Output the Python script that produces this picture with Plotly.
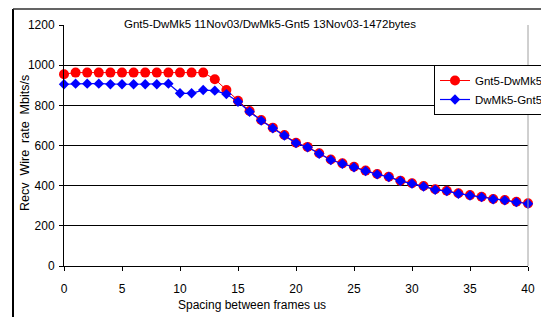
import plotly.graph_objects as go

spacing = list(range(0, 41))
gnt5_dwmk5 = [955, 963, 963, 963, 963, 963, 963, 963, 963, 963, 963, 963, 963, 930, 876,
              823, 772, 727, 689, 652, 614, 593, 561, 530, 511, 494, 475, 458, 445, 425,
              412, 398, 382, 375, 362, 353, 345, 334, 329, 320, 312]
dwmk5_gnt5 = [905, 908, 908, 908, 905, 905, 905, 905, 905, 908, 860, 860, 876, 873, 856,
              818, 768, 724, 686, 650, 612, 591, 559, 528, 509, 492, 473, 456, 443, 423,
              410, 396, 380, 373, 360, 351, 343, 332, 327, 318, 310]
y_ticks = [0, 200, 400, 600, 800, 1000, 1200]
x_ticks = [0, 5, 10, 15, 20, 25, 30, 35, 40]
title_text = "Gnt5-DwMk5 11Nov03/DwMk5-Gnt5 13Nov03-1472bytes"

FONT = "Liberation Sans, Arial, sans-serif"

fig = go.Figure()
fig.add_trace(go.Scatter(
    x=spacing, y=gnt5_dwmk5, name="Gnt5-DwMk5", mode="lines+markers",
    line=dict(color="#FF0000", width=1),
    marker=dict(symbol="circle", size=10, color="#FF0000"),
    cliponaxis=False))
fig.add_trace(go.Scatter(
    x=spacing, y=dwmk5_gnt5, name="DwMk5-Gnt5", mode="lines+markers",
    line=dict(color="#0000FF", width=1.2),
    marker=dict(symbol="diamond", size=8, color="#0000FF"),
    cliponaxis=False))

W, H = 541, 317
L, R, T, B = 64, 13, 25, 51
pw, ph = W - L - R, H - T - B

def px(x):
    return (x - L) / pw

def py(y):
    return (H - B - y) / ph

fig.update_layout(
    width=W, height=H,
    margin=dict(l=L, r=R, t=T, b=B, autoexpand=False),
    paper_bgcolor="white", plot_bgcolor="white",
    font=dict(family=FONT, size=12, color="black"),
    showlegend=True,
    legend=dict(
        x=px(434), y=py(65), xanchor="left", yanchor="top",
        bgcolor="white", bordercolor="black", borderwidth=1,
        font=dict(family=FONT, size=11.5, color="black"),
        itemwidth=30, tracegroupgap=0,
    ),
    xaxis=dict(
        range=[0, 40], tickvals=x_ticks, showgrid=False, zeroline=False,
        showline=True, linecolor="black", linewidth=1,
        ticks="outside", ticklen=4, tickcolor="black",
        ticklabelstandoff=8,
        tickfont=dict(family=FONT, size=12),
    ),
    yaxis=dict(
        range=[0, 1200], tickvals=y_ticks, showgrid=True, gridcolor="black",
        gridwidth=1, zeroline=False,
        showline=True, linecolor="black", linewidth=1,
        ticks="outside", ticklen=4, tickcolor="black",
        ticklabelstandoff=2,
        tickfont=dict(family=FONT, size=12),
    ),
    shapes=[
        # plot area right edge (grey)
        dict(type="line", xref="paper", yref="paper", x0=1, x1=1, y0=0, y1=1,
             line=dict(color="#A0A0A0", width=1)),
        # outer chart border, left and top
        dict(type="line", xref="paper", yref="paper", x0=px(13), x1=px(13),
             y0=py(9), y1=py(330), line=dict(color="black", width=2)),
        dict(type="line", xref="paper", yref="paper", x0=px(13), x1=px(560),
             y0=py(9), y1=py(9), line=dict(color="#303030", width=1.5)),
    ],
    annotations=[
        dict(text=title_text, xref="paper", yref="paper", x=px(270), y=py(24),
             xanchor="center", yanchor="middle", showarrow=False,
             bgcolor="white", borderpad=2,
             font=dict(family=FONT, size=11.5, color="black")),
        dict(text="Recv  Wire  rate  Mbits/s", xref="paper", yref="paper",
             x=px(25), y=py(143), xanchor="center", yanchor="middle",
             textangle=-90, showarrow=False,
             font=dict(family=FONT, size=12.5, color="black")),
        dict(text="Spacing between frames us", xref="paper", yref="paper",
             x=px(252), y=py(305), xanchor="center", yanchor="middle",
             showarrow=False, font=dict(family=FONT, size=12, color="black")),
    ],
)

fig.write_html(
    "out.html",
    config={"displayModeBar": False},
    post_script="document.body.style.margin='0';document.body.style.padding='0';"
                "document.body.style.overflow='hidden';",
)
